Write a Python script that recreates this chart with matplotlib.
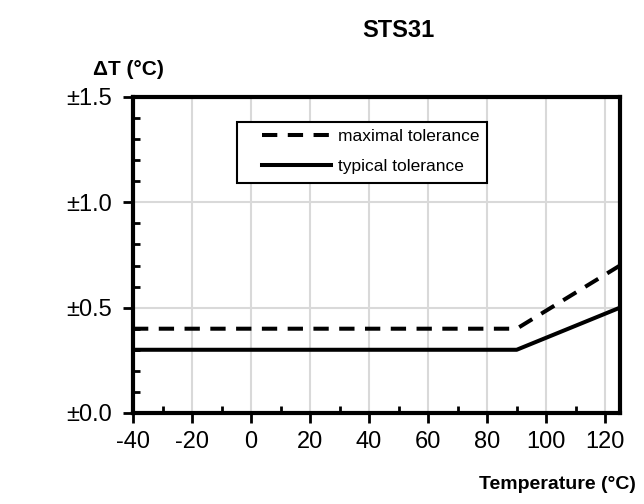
import matplotlib
matplotlib.use('Agg')
from matplotlib import pyplot as plt
from matplotlib.patches import Rectangle
from matplotlib.ticker import MultipleLocator

plt.rcParams['font.family'] = ['Liberation Sans Narrow', 'Liberation Sans', 'DejaVu Sans']
plt.rcParams['axes.unicode_minus'] = False

# tolerance curves (temperature in degC, delta T in degC)
temp = [-40, 90, 125]
max_tol = [0.4, 0.4, 0.7]
typ_tol = [0.3, 0.3, 0.5]

xticks = [-40, -20, 0, 20, 40, 60, 80, 100, 120]
yticks = [0.0, 0.5, 1.0, 1.5]
ylabels = [u'\u00b1%.1f' % v for v in yticks]

fig = plt.figure(figsize=(6.44, 5.04), dpi=100)
ax = fig.add_axes([0.2065, 0.1806, 0.7562, 0.6270])

ax.plot(temp, max_tol, color='black', lw=2.9, ls=(0, (3.8, 2.6)),
        label='maximal tolerance', zorder=3)
ax.plot(temp, typ_tol, color='black', lw=2.9, label='typical tolerance', zorder=3)

ax.set_xlim(-40, 125)
ax.set_ylim(0, 1.5)
ax.set_xticks(xticks)
ax.set_yticks(yticks)
ax.set_yticklabels(ylabels)
ax.xaxis.set_minor_locator(MultipleLocator(10))
ax.yaxis.set_minor_locator(MultipleLocator(0.1))
ax.tick_params(which='major', direction='out', length=7, width=2, labelsize=17)
ax.tick_params(axis='y', which='major', pad=8)
ax.tick_params(axis='x', which='major', pad=6)
ax.tick_params(which='minor', direction='in', length=5, width=2)
ax.grid(which='major', color='#d9d9d9', lw=1.5, zorder=0)
for s in ax.spines.values():
  s.set_linewidth(3)

# legend box drawn separately so the padding matches
ax.add_patch(Rectangle((0.2136, 0.728), 0.5134, 0.193, transform=ax.transAxes,
                       fill=True, facecolor='white', edgecolor='black',
                       lw=1.5, zorder=4))
leg = ax.legend(loc='upper left', bbox_to_anchor=(0.265, 0.90), fontsize=12.5,
                frameon=False, handlelength=4.0, handletextpad=0.35,
                borderpad=0, labelspacing=0.89, borderaxespad=0)
leg.set_zorder(5)

fig.text(0.618, 0.94, 'STS31', ha='center', va='center', fontsize=17, fontweight='bold')
fig.text(0.145, 0.862, u'\u0394T (\u00b0C)', ha='left', va='center', fontsize=15, fontweight='bold')
fig.text(0.988, 0.038, u'Temperature (\u00b0C)', ha='right', va='center', fontsize=14, fontweight='bold')

fig.savefig('out.png', dpi=100)
